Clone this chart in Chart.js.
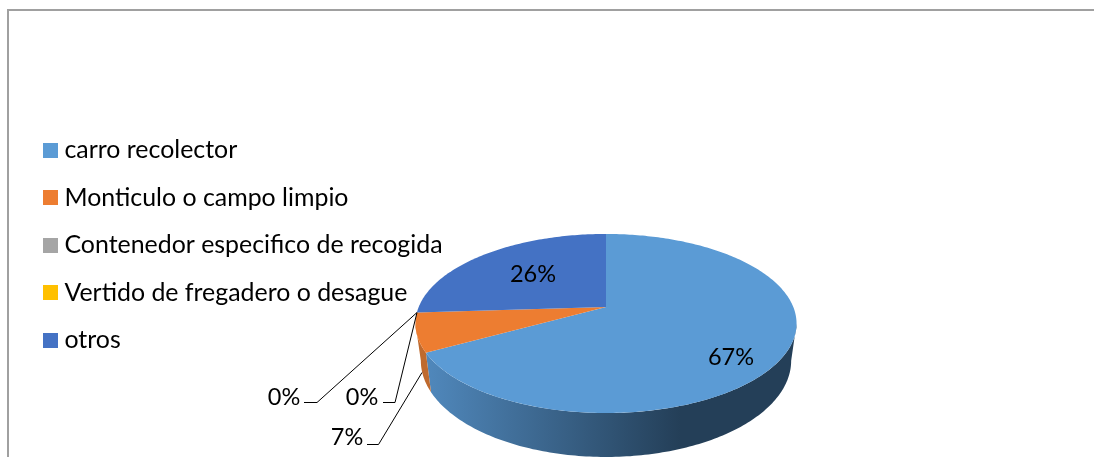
<!DOCTYPE html>
<html>
<head>
<meta charset="utf-8">
<script src="https://cdn.jsdelivr.net/npm/chart.js@4/dist/chart.umd.js"></script>
<style>
  html, body { margin: 0; padding: 0; background: #fff; overflow: hidden; }
  #wrap { position: relative; width: 1094px; height: 457px; }
  #frame { position: absolute; left: 7px; top: 9px; right: 0; bottom: 0; border-top: 2px solid #a0a0a0; border-left: 2px solid #a0a0a0; }
  canvas { position: absolute; left: 0; top: 0; }
</style>
</head>
<body>
<div id="wrap">
  <div id="frame"></div>
  <canvas id="pie" width="1094" height="457"></canvas>
</div>
<script>
// ---- data ----
const labels = ["carro recolector", "Monticulo o campo limpio", "Contenedor especifico de recogida", "Vertido de fregadero o desague", "otros"];
const values = [67, 7, 0, 0, 26];
const colors = ["#5B9BD5", "#ED7D31", "#A5A5A5", "#FFC000", "#4472C4"];

// ---- look of the tilted pie ----
const FONT = "Lato";
const LEGEND_SIZE = 24.9;
const LEGEND_PADDING = 22.7;
const top3d = { rx: 187.3, ry: 86.5, dy: 0 };      // top face
const bottom3d = { rx: 182, ry: 93, dy: 36 };      // lower rim of the side wall
const PERSPECTIVE = 0.184;

// where each percent label sits, leader line optional (same order as values)
const labelSpots = [
  { x: 731, y: 357 },
  { x: 347, y: 437, line: [[422, 372.5], [378.5, 444.5], [367, 444.5]] },
  { x: 284, y: 397, line: [[417, 312.5], [317, 402.5], [304, 402.5]] },
  { x: 362, y: 397, line: [[417, 312.5], [395, 402.5], [383, 402.5]] },
  { x: 533, y: 274 }
];

// project a pie angle onto the tilted disc
function project(el, face, angle) {
  const u = Math.cos(angle), v = Math.sin(angle);
  const w = 1 - PERSPECTIVE * v;
  return [el.x + face.rx * u / w, el.y + face.dy + face.ry * v / w];
}

function tracePath(ctx, el, face, from, to, first) {
  const steps = Math.max(2, Math.ceil(Math.abs(to - from) * 60));
  for (let i = 0; i <= steps; i++) {
    const p = project(el, face, from + (to - from) * i / steps);
    if (i === 0 && first) ctx.moveTo(p[0], p[1]);
    else ctx.lineTo(p[0], p[1]);
  }
}

// arc element that draws itself as the top face of the tilted pie
class Arc3d extends Chart.ArcElement {
  static id = "arc3d";

  draw(ctx) {
    if (this.endAngle - this.startAngle <= 0) return;
    ctx.save();
    ctx.beginPath();
    ctx.moveTo(this.x, this.y);
    tracePath(ctx, this, top3d, this.startAngle, this.endAngle, false);
    ctx.closePath();
    ctx.fillStyle = this.options.backgroundColor;
    ctx.fill();
    ctx.restore();
  }

  drawWall(ctx, fill) {
    const edge = Math.asin(PERSPECTIVE);
    const from = Math.max(this.startAngle, edge);
    const to = Math.min(this.endAngle, Math.PI - edge);
    if (to <= from) return;
    ctx.save();
    ctx.beginPath();
    tracePath(ctx, this, top3d, from, to, true);
    tracePath(ctx, this, bottom3d, to, from, false);
    ctx.closePath();
    ctx.fillStyle = fill;
    ctx.fill();
    ctx.restore();
  }
}

class Pie3dController extends Chart.PieController {
  static id = "pie3d";
  static defaults = { dataElementType: "arc3d" };

  draw() {
    const ctx = this.chart.ctx;
    const arcs = this._cachedMeta.data;
    const blue = ctx.createLinearGradient(426, 0, 680, 0);
    blue.addColorStop(0, "#5088BC");
    blue.addColorStop(1, "#243F58");
    const orange = "#BF6A2E";
    arcs[0].drawWall(ctx, blue);
    arcs[1].drawWall(ctx, orange);
    super.draw();
  }
}

Chart.register(Arc3d, Pie3dController);

// legend swatch, wider than the slot the legend keeps for it so the text sits close
function swatch(color) {
  const c = document.createElement("canvas");
  c.width = 15;
  c.height = 15;
  const g = c.getContext("2d");
  g.fillStyle = color;
  g.fillRect(0, 0, 15, 15);
  return c;
}

// the legend overlaps the pie's box in the original, so move it after layout
const placeLegend = {
  id: "placeLegend",
  afterLayout(chart) {
    chart.legend.left = 26.3;
    chart.legend.right = 460;
    chart.legend.top = 114.85;
  }
};

const percentLabels = {
  id: "percentLabels",
  afterDatasetsDraw(chart) {
    const ctx = chart.ctx;
    const total = values.reduce((a, b) => a + b, 0);
    ctx.save();
    ctx.strokeStyle = "#000";
    ctx.lineWidth = 1;
    labelSpots.forEach(spot => {
      if (!spot.line) return;
      ctx.beginPath();
      spot.line.forEach((p, i) => (i ? ctx.lineTo(p[0], p[1]) : ctx.moveTo(p[0], p[1])));
      ctx.stroke();
    });
    ctx.fillStyle = "#000";
    ctx.font = "23.5px " + FONT;
    ctx.textAlign = "center";
    ctx.textBaseline = "middle";
    values.forEach((v, i) => {
      ctx.fillText(Math.round(v / total * 100) + "%", labelSpots[i].x, labelSpots[i].y);
    });
    ctx.restore();
  }
};

new Chart(document.getElementById("pie"), {
  type: "pie3d",
  data: {
    labels: labels,
    datasets: [{ data: values, backgroundColor: colors, borderWidth: 0 }]
  },
  options: {
    responsive: false,
    animation: false,
    layout: { padding: { left: 25.5, right: 307.5, top: 157, bottom: 0 } },
    plugins: {
      tooltip: { enabled: false },
      legend: {
        position: "left",
        align: "start",
        maxWidth: 400,
        labels: {
          color: "#000",
          font: { family: FONT, size: LEGEND_SIZE },
          padding: LEGEND_PADDING,
          usePointStyle: true,
          pointStyleWidth: 3,
          generateLabels: () => labels.map((text, i) => ({
            text: text,
            fillStyle: colors[i],
            strokeStyle: colors[i],
            lineWidth: 0,
            pointStyle: swatch(colors[i]),
            hidden: false,
            index: i
          }))
        }
      }
    }
  },
  plugins: [placeLegend, percentLabels]
});
</script>
</body>
</html>
